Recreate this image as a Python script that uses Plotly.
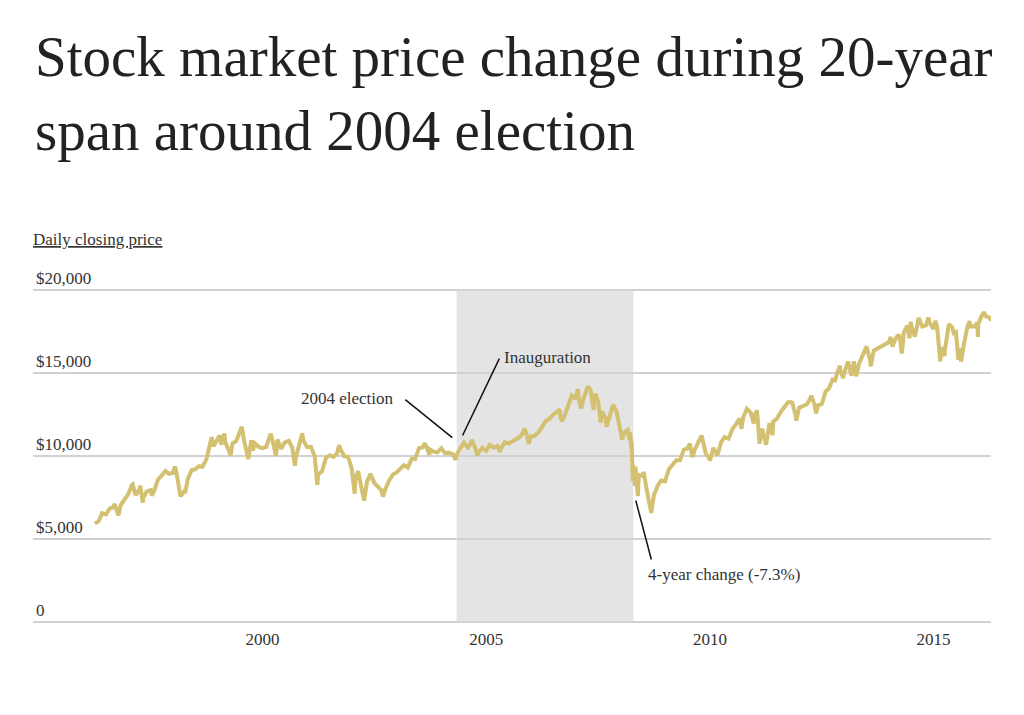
import plotly.graph_objects as go

# ---------------- data (approximate daily closes) ----------------
dates = [
    "1996-10-01", "1996-10-31", "1996-11-29", "1996-12-31",
    "1997-01-31", "1997-02-28", "1997-03-11", "1997-03-31", "1997-04-11", "1997-04-30",
    "1997-05-30", "1997-06-30", "1997-07-31", "1997-08-06", "1997-08-29", "1997-09-30",
    "1997-10-07", "1997-10-27", "1997-10-31", "1997-11-28", "1997-12-31",
    "1998-01-09", "1998-01-30", "1998-02-27", "1998-03-31", "1998-04-30", "1998-05-29",
    "1998-06-30", "1998-07-17", "1998-07-31", "1998-08-31", "1998-09-30", "1998-10-08",
    "1998-10-30", "1998-11-30", "1998-12-31",
    "1999-01-29", "1999-02-26", "1999-03-31", "1999-04-30", "1999-05-13", "1999-05-28",
    "1999-06-30", "1999-07-16", "1999-07-30", "1999-08-25", "1999-08-31", "1999-09-30",
    "1999-10-15", "1999-10-29", "1999-11-30", "1999-12-31",
    "2000-01-14", "2000-01-31", "2000-02-29", "2000-03-07", "2000-03-31", "2000-04-14",
    "2000-04-28", "2000-05-31", "2000-06-30", "2000-07-31", "2000-08-31", "2000-09-06",
    "2000-09-29", "2000-10-18", "2000-10-31", "2000-11-30", "2000-12-29",
    "2001-01-31", "2001-02-28", "2001-03-22", "2001-03-30", "2001-04-30", "2001-05-21",
    "2001-05-31", "2001-06-29", "2001-07-31", "2001-08-31", "2001-09-21", "2001-09-28",
    "2001-10-31", "2001-11-30", "2001-12-31",
    "2002-01-31", "2002-02-28", "2002-03-19", "2002-03-28", "2002-04-30", "2002-05-31",
    "2002-06-28", "2002-07-23", "2002-07-31", "2002-08-22", "2002-08-30", "2002-09-30",
    "2002-10-09", "2002-10-31", "2002-11-29", "2002-12-31",
    "2003-01-31", "2003-02-28", "2003-03-11", "2003-03-31", "2003-04-30", "2003-05-30",
    "2003-06-30", "2003-07-31", "2003-08-29", "2003-09-30", "2003-10-31", "2003-11-28",
    "2003-12-31",
    "2004-01-30", "2004-02-11", "2004-02-27", "2004-03-24", "2004-03-31", "2004-04-30",
    "2004-05-28", "2004-06-30", "2004-07-30", "2004-08-31", "2004-09-30", "2004-10-25",
    "2004-10-29", "2004-11-30", "2004-12-31",
    "2005-01-31", "2005-02-28", "2005-03-04", "2005-03-31", "2005-04-20", "2005-04-29",
    "2005-05-31", "2005-06-30", "2005-07-29", "2005-08-31", "2005-09-30", "2005-10-21",
    "2005-10-31", "2005-11-30", "2005-12-30",
    "2006-01-31", "2006-02-28", "2006-03-31", "2006-04-28", "2006-05-10", "2006-05-31",
    "2006-06-13", "2006-06-30", "2006-07-31", "2006-08-31", "2006-09-29", "2006-10-31",
    "2006-11-30", "2006-12-29",
    "2007-01-31", "2007-02-20", "2007-02-28", "2007-03-13", "2007-03-30", "2007-04-30",
    "2007-05-31", "2007-06-29", "2007-07-19", "2007-07-31", "2007-08-16", "2007-08-31",
    "2007-09-28", "2007-10-09", "2007-10-31", "2007-11-26", "2007-11-30", "2007-12-10",
    "2007-12-31",
    "2008-01-22", "2008-01-31", "2008-02-29", "2008-03-10", "2008-03-31", "2008-04-30",
    "2008-05-02", "2008-05-30", "2008-06-30", "2008-07-15", "2008-07-31", "2008-08-29",
    "2008-09-15", "2008-09-19", "2008-09-29", "2008-09-30", "2008-10-10", "2008-10-13",
    "2008-10-27", "2008-10-31", "2008-11-20", "2008-11-28", "2008-12-31",
    "2009-01-06", "2009-01-30", "2009-02-27", "2009-03-09", "2009-03-31", "2009-04-30",
    "2009-05-29", "2009-06-30", "2009-07-31", "2009-08-31", "2009-09-30", "2009-10-30",
    "2009-11-30", "2009-12-31",
    "2010-01-19", "2010-02-08", "2010-02-26", "2010-03-31", "2010-04-26", "2010-04-30",
    "2010-05-28", "2010-06-30", "2010-07-02", "2010-07-30", "2010-08-31", "2010-09-30",
    "2010-10-29", "2010-11-30", "2010-12-31",
    "2011-01-31", "2011-02-28", "2011-03-16", "2011-03-31", "2011-04-29", "2011-05-31",
    "2011-06-24", "2011-06-30", "2011-07-21", "2011-07-29", "2011-08-10", "2011-08-31",
    "2011-09-30", "2011-10-03", "2011-10-31", "2011-11-25", "2011-11-30", "2011-12-30",
    "2012-01-31", "2012-02-29", "2012-03-30", "2012-04-30", "2012-05-01", "2012-05-31",
    "2012-06-04", "2012-06-29", "2012-07-31", "2012-08-31", "2012-09-28", "2012-10-05",
    "2012-10-31", "2012-11-15", "2012-11-30", "2012-12-31",
    "2013-01-31", "2013-02-28", "2013-03-28", "2013-04-18", "2013-04-30", "2013-05-28",
    "2013-05-31", "2013-06-24", "2013-06-28", "2013-07-31", "2013-08-02", "2013-08-30",
    "2013-09-18", "2013-09-30", "2013-10-08", "2013-10-31", "2013-11-29", "2013-12-31",
    "2014-01-31", "2014-02-03", "2014-02-28", "2014-03-31", "2014-04-30", "2014-05-30",
    "2014-06-30", "2014-07-16", "2014-07-31", "2014-08-29", "2014-09-19", "2014-09-30",
    "2014-10-15", "2014-10-31", "2014-11-28", "2014-12-16", "2014-12-26", "2014-12-31",
    "2015-01-30", "2015-02-27", "2015-03-02", "2015-03-31", "2015-04-30", "2015-05-19",
    "2015-05-29", "2015-06-30", "2015-07-16", "2015-07-31", "2015-08-25", "2015-08-31",
    "2015-09-29", "2015-09-30", "2015-10-30", "2015-11-03", "2015-11-30", "2015-12-14",
    "2015-12-31",
    "2016-01-20", "2016-01-29", "2016-02-11", "2016-02-29", "2016-03-31", "2016-04-20",
    "2016-04-29", "2016-05-31", "2016-06-23", "2016-06-27", "2016-06-30", "2016-07-29",
    "2016-08-15", "2016-08-31", "2016-09-30", "2016-10-14",
]

closes = [
    5904, 6029, 6522, 6448,
    6813, 6878, 7085, 6583, 6391, 7009,
    7331, 7672, 8222, 8259, 7622, 7945,
    8178, 7161, 7442, 7823, 7908,
    7581, 7907, 8546, 8800, 9063, 8900,
    8952, 9338, 8883, 7539, 7843, 7731,
    8592, 9117, 9181,
    9359, 9307, 9786, 10789, 11107, 10560,
    10971, 11209, 10655, 11326, 10829, 10337,
    10019, 10729, 10878, 11497,
    11723, 10940, 10128, 9796, 10922, 10306,
    10734, 10522, 10448, 10522, 11215, 11310,
    10651, 9976, 10971, 10415, 10787,
    10887, 10495, 9389, 9879, 10735, 11337,
    10912, 10502, 10523, 9950, 8235, 8848,
    9075, 9852, 10022,
    9920, 10106, 10635, 10404, 9946, 9925,
    9243, 7702, 8737, 9053, 8664, 7592,
    7286, 8397, 8896, 8342,
    8054, 7891, 7524, 7992, 8480, 8850,
    8985, 9234, 9416, 9275, 9801, 9782,
    10454,
    10488, 10737, 10584, 10048, 10358, 10226,
    10188, 10435, 10140, 10174, 10080, 9749,
    10027, 10428, 10783,
    10490, 10766, 10940, 10504, 10012, 10193,
    10467, 10275, 10641, 10482, 10569, 10215,
    10440, 10806, 10718,
    10865, 10993, 11109, 11367, 11642, 11168,
    10706, 11150, 11186, 11381, 11679, 12081,
    12221, 12463,
    12622, 12786, 12269, 12076, 12354, 13063,
    13628, 13409, 14000, 13212, 12845, 13358,
    13896, 14164, 13930, 12743, 13372, 13727,
    13265,
    11971, 12650, 12266, 11740, 12263, 12820,
    13058, 12638, 11350, 10962, 11378, 11544,
    10917, 11388, 10365, 10851, 8451, 9387,
    8175, 9325, 7552, 8829, 8776,
    9015, 8001, 7063, 6547, 7609, 8168,
    8500, 8447, 9172, 9496, 9712, 9713,
    10345, 10428,
    10725, 9908, 10325, 10857, 11205, 11009,
    10137, 9774, 9686, 10466, 10015, 10788,
    11118, 11006, 11578,
    11892, 12226, 11613, 12320, 12811, 12570,
    11934, 12414, 12724, 12143, 10719, 11614,
    10913, 10655, 11955, 11231, 12046, 12218,
    12633, 12952, 13212, 13214, 13279, 12393,
    12101, 12880, 13009, 13091, 13437, 13610,
    13096, 12543, 13026, 13104,
    13861, 14054, 14579, 14537, 14840, 15410,
    15116, 14660, 14910, 15500, 15658, 14810,
    15677, 15130, 14776, 15546, 16086, 16577,
    15699, 15373, 16322, 16458, 16581, 16717,
    16827, 17138, 16563, 17098, 17280, 17043,
    16142, 17391, 17828, 17068, 18053, 17823,
    17165, 18133, 18288, 17776, 17841, 18312,
    18011, 17620, 18120, 17690, 15666, 16528,
    16001, 16285, 17664, 17918, 17720, 17368,
    17425,
    15766, 16466, 15660, 16517, 17685, 18096,
    17774, 17787, 18011, 17140, 17930, 18432,
    18636, 18401, 18308, 18138,
]

y_tickvals = [0, 5000, 10000, 15000, 20000]
y_ticktext = ["0", "$5,000", "$10,000", "$15,000", "$20,000"]
x_tickvals = ["2000-07-01", "2005-07-01", "2010-07-01", "2015-07-01"]
x_ticktext = ["2000", "2005", "2010", "2015"]

term_start = "2004-11-02"
term_end = "2008-10-14"

# annotation labels: (text, x, y, xanchor)
labels = [
    ("2004 election", "2003-06-28", 13434, "right"),
    ("Inauguration", "2005-11-03", 15904, "left"),
    ("4-year change (-7.3%)", "2009-01-22", 2831, "left"),
]
# leader lines: (x0, y0, x1, y1)
leaders = [
    ("2003-09-09", 13373, "2004-09-27", 11084),
    ("2005-10-16", 15843, "2004-12-20", 11205),
    ("2008-11-03", 7289, "2009-03-10", 3735),
]

SERIF = "Liberation Serif"
LINE_COLOR = "#d3c070"
TEXT = "#333333"

fig = go.Figure()
fig.add_trace(go.Scatter(
    x=dates, y=closes, mode="lines",
    line=dict(color=LINE_COLOR, width=4),
    hoverinfo="x+y", showlegend=False,
))

fig.add_shape(type="rect", xref="x", yref="y", x0=term_start, x1=term_end,
              y0=0, y1=20000, fillcolor="#e4e4e4", line=dict(width=0), layer="below")

for x0, y0, x1, y1 in leaders:
    fig.add_shape(type="line", xref="x", yref="y", x0=x0, y0=y0, x1=x1, y1=y1,
                  line=dict(color="#111111", width=1.5), layer="above")

for text, x, y, anchor in labels:
    fig.add_annotation(x=x, y=y, xref="x", yref="y", text=text, showarrow=False,
                       xanchor=anchor, yanchor="middle",
                       font=dict(family=SERIF, size=17, color=TEXT))

fig.add_annotation(x=0, y=1.080, xref="paper", yref="paper", text="<u>Daily closing price</u>",
                   showarrow=False, xanchor="left", yanchor="middle", xshift=-2,
                   font=dict(family=SERIF, size=17, color=TEXT))

fig.update_layout(
    width=1024, height=715,
    margin=dict(l=33, r=33, t=268, b=91),
    paper_bgcolor="white", plot_bgcolor="white",
    font=dict(family=SERIF, size=17, color=TEXT),
    title=dict(
        text="Stock market price change during 20-year<br>span around 2004 election",
        font=dict(family=SERIF, size=57, color="#222222"),
        xref="container", yref="container", x=35 / 1024, xanchor="left",
        y=1 - 76 / 715, yanchor="top",
    ),
    xaxis=dict(
        type="date", range=["1995-05-15", "2016-10-12"],
        tickmode="array", tickvals=x_tickvals, ticktext=x_ticktext,
        showgrid=False, zeroline=False, showline=False, ticks="",
        ticklabelstandoff=3,
        tickfont=dict(family=SERIF, size=17, color=TEXT),
    ),
    yaxis=dict(
        range=[-150, 21300],
        tickmode="array", tickvals=y_tickvals, ticktext=y_ticktext,
        showgrid=True, gridcolor="#d2d2d2", gridwidth=1.5,
        zeroline=False, showline=False, ticks="",
        ticklabelposition="inside top",
        tickfont=dict(family=SERIF, size=17, color=TEXT),
    ),
    hovermode=False,
)

fig.write_html("out.html")
